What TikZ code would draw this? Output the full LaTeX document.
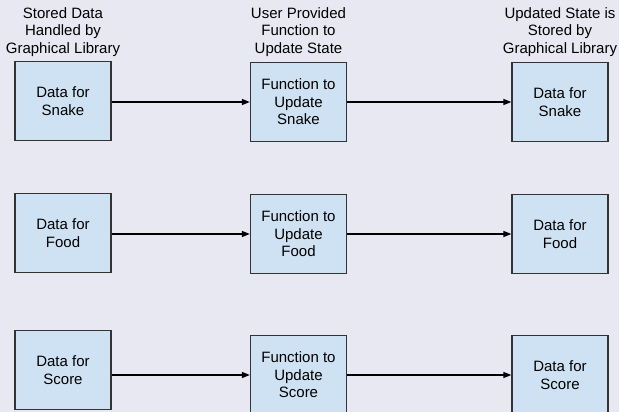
\documentclass[tikz,border=0pt]{standalone}
\usepackage{fontspec}
\setmainfont{Liberation Sans}
\usetikzlibrary{arrows.meta}
\definecolor{paper}{HTML}{E8E8F2}
\definecolor{boxfill}{HTML}{CFE2F3}
\definecolor{boxline}{HTML}{333333}

\begin{document}
\begin{tikzpicture}[
  x=1pt,y=1pt,
  >={Triangle[length=8pt,width=6pt]},
  font=\fontsize{15}{17.4}\selectfont,
  block/.style={rectangle,draw=boxline,fill=boxfill,line width=1.3pt,minimum width=96pt,minimum height=79pt,align=center,inner sep=2pt},
  heading/.style={align=center,anchor=south,inner sep=0pt}
]

\fill[paper] (0,0) rectangle (619,-412);
\useasboundingbox (0,0) rectangle (619,-412);

% column headings
\node[heading] (head1) at (63,-56.5) {Stored Data\\Handled by\\Graphical Library};
\node[heading] (head2) at (298.5,-56.5) {User Provided\\Function to\\Update State};
\node[heading] (head3) at (560,-56.5) {Updated State is\\Stored by\\Graphical Library};

% stored data
\node[block] (snake1) at (63,-101) {Data for\\Snake};
\node[block] (food1) at (63,-233) {Data for\\Food};
\node[block] (score1) at (63,-370) {Data for\\Score};

% update functions
\node[block] (snake2) at (298.5,-102) {Function to\\Update\\Snake};
\node[block] (food2) at (298.5,-234) {Function to\\Update\\Food};
\node[block] (score2) at (298.5,-375) {Function to\\Update\\Score};

% updated state
\node[block] (snake3) at (560,-102) {Data for\\Snake};
\node[block] (food3) at (560,-234) {Data for\\Food};
\node[block] (score3) at (560,-375) {Data for\\Score};

\draw[->,line width=1.3pt] (snake1.east |- snake2.west) -- (snake2.west);
\draw[->,line width=1.3pt] (food1.east |- food2.west) -- (food2.west);
\draw[->,line width=1.3pt] (score1.east |- score2.west) -- (score2.west);

\draw[->,line width=1.3pt] (snake2.east) -- (snake3.west);
\draw[->,line width=1.3pt] (food2.east) -- (food3.west);
\draw[->,line width=1.3pt] (score2.east) -- (score3.west);

\end{tikzpicture}
\end{document}
